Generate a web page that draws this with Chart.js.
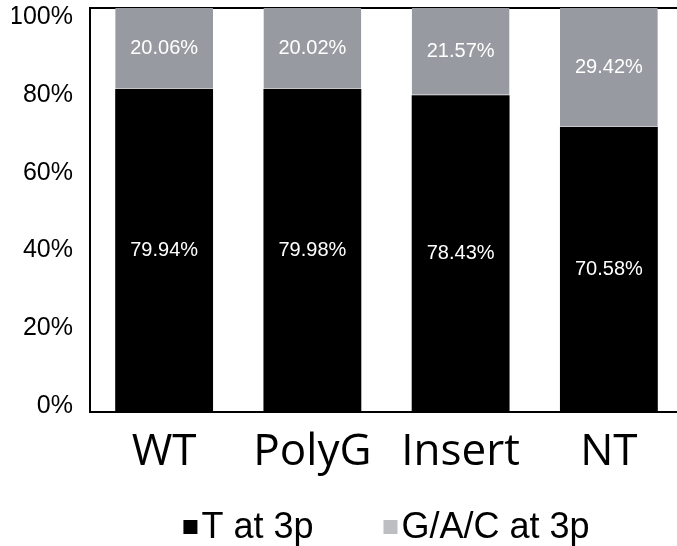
<!DOCTYPE html>
<html>
<head>
<meta charset="utf-8">
<script src="https://cdn.jsdelivr.net/npm/chart.js@4.4.1/dist/chart.umd.min.js"></script>
<style>
  html, body { margin: 0; padding: 0; background: #fff; overflow: hidden; }
  #wrap { width: 677px; height: 546px; overflow: hidden; position: relative; }
  canvas { display: block; }
</style>
</head>
<body>
<div id="wrap"><canvas id="c" width="690" height="546"></canvas></div>
<script>
const categories = ['WT', 'PolyG', 'Insert', 'NT'];
const tValues = [79.94, 79.98, 78.43, 70.58];
const gacValues = [20.06, 20.02, 21.57, 29.42];
const yTickValues = [0, 20, 40, 60, 80, 100];
const seriesNames = ['T at 3p', 'G/A/C at 3p'];
const barColors = ['#000000', '#979ba1'];
const legendColors = ['#000000', '#bcbec1'];

const LABEL_MIN = -1.55, LABEL_MAX = 102.32;

const valueLabels = {
  id: 'valueLabels',
  afterDatasetsDraw(chart) {
    const ctx = chart.ctx;
    ctx.save();
    ctx.fillStyle = '#ffffff';
    ctx.font = '20px "Liberation Sans", Arial, sans-serif';
    ctx.textAlign = 'center';
    ctx.textBaseline = 'middle';
    chart.data.datasets.forEach((ds, di) => {
      const meta = chart.getDatasetMeta(di);
      meta.data.forEach((el, i) => {
        const p = el.getCenterPoint();
        ctx.fillText(ds.data[i].toFixed(2) + '%', p.x, p.y);
      });
    });
    ctx.restore();
  }
};

const customLegend = {
  id: 'customLegend',
  afterDraw(chart) {
    const ctx = chart.ctx;
    const area = chart.chartArea;
    ctx.save();
    ctx.font = '36px "Liberation Sans", Arial, sans-serif';
    ctx.textBaseline = 'middle';
    ctx.textAlign = 'left';
    const box = 14, gapText = 4, gapItems = 70;
    const items = chart.data.datasets.map((ds, i) => ({
      text: ds.label, color: legendColors[i], w: ctx.measureText(ds.label).width
    }));
    let total = 0;
    items.forEach((it, i) => { total += box + gapText + it.w + (i ? gapItems : 0); });
    let x = (area.left + area.right) / 2 - total / 2;
    const cy = 527;
    items.forEach((it) => {
      ctx.fillStyle = it.color;
      ctx.fillRect(x, cy - box / 2, box, box);
      ctx.fillStyle = '#000';
      ctx.fillText(it.text, x + box + gapText, cy + 1);
      x += box + gapText + it.w + gapItems;
    });
    ctx.restore();
  }
};

new Chart(document.getElementById('c'), {
  type: 'bar',
  data: {
    labels: categories,
    datasets: [
      {
        label: seriesNames[0],
        data: tValues,
        backgroundColor: barColors[0],
        borderWidth: 0,
        barPercentage: 0.66,
        categoryPercentage: 1.0
      },
      {
        label: seriesNames[1],
        data: gacValues,
        backgroundColor: barColors[1],
        borderColor: '#c4c6c9',
        borderWidth: { top: 0, left: 0, right: 0, bottom: 1 },
        borderSkipped: false,
        barPercentage: 0.66,
        categoryPercentage: 1.0
      }
    ]
  },
  options: {
    responsive: false,
    animation: false,
    devicePixelRatio: 1,
    layout: { padding: { left: 12, right: 7, top: 8, bottom: 53 } },
    plugins: {
      legend: { display: false },
      tooltip: { enabled: false }
    },
    scales: {
      x: {
        stacked: true,
        position: 'bottom',
        grid: { display: false, drawTicks: false },
        border: { display: true, color: '#000', width: 2 },
        ticks: {
          color: '#000',
          padding: 14,
          font: { family: '"Open Sans", "Noto Sans", sans-serif', size: 44 }
        },
        afterFit(axis) { axis.paddingLeft = 0; axis.paddingRight = 0; }
      },
      y: {
        stacked: true,
        display: false,
        min: 0,
        max: 100
      },
      yl: {
        type: 'linear',
        position: 'left',
        z: 1,
        min: LABEL_MIN,
        max: LABEL_MAX,
        afterBuildTicks(axis) {
          axis.ticks = yTickValues.concat([LABEL_MAX]).map(v => ({ value: v }));
        },
        afterFit(axis) {
          axis.width = 78;
          axis.paddingTop = 0;
          axis.paddingBottom = 0;
        },
        grid: {
          display: true,
          drawTicks: false,
          drawOnChartArea: true,
          lineWidth: 2,
          color: (c) => (c.tick && c.tick.value === LABEL_MAX) ? '#000000' : 'rgba(0,0,0,0)'
        },
        border: { display: true, color: '#000', width: 2 },
        ticks: {
          color: '#000',
          padding: 17,
          font: { family: '"Liberation Sans", Arial, sans-serif', size: 25 },
          callback: v => yTickValues.includes(v) ? v + '%' : ''
        }
      }
    }
  },
  plugins: [valueLabels, customLegend]
});
</script>
</body>
</html>
